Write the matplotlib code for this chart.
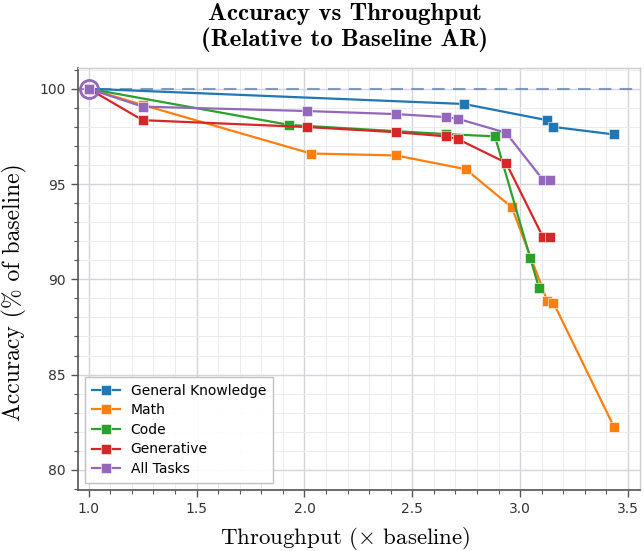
import matplotlib.pyplot as plt
from matplotlib.ticker import MultipleLocator

plt.rcParams['mathtext.fontset'] = 'cm'

# Throughput (x baseline) and accuracy (% of baseline) per task group
gk_x = [1.0, 2.74, 3.124, 3.152, 3.435]
gk_y = [100.0, 99.2, 98.35, 98.0, 97.6]

math_x = [1.0, 1.25, 2.03, 2.424, 2.747, 2.961, 3.126, 3.154, 3.435]
math_y = [100.0, 99.15, 96.6, 96.5, 95.78, 93.78, 88.85, 88.77, 82.25]

code_x = [1.0, 1.93, 2.656, 2.883, 3.047, 3.088]
code_y = [100.0, 98.1, 97.62, 97.5, 91.1, 89.52]

gen_x = [1.0, 1.25, 2.011, 2.424, 2.656, 2.712, 2.934, 3.105, 3.137]
gen_y = [100.0, 98.35, 97.99, 97.72, 97.5, 97.35, 96.12, 92.23, 92.2]

all_x = [1.0, 1.25, 2.011, 2.424, 2.656, 2.712, 2.934, 3.105, 3.137]
all_y = [100.0, 99.06, 98.83, 98.67, 98.51, 98.42, 97.69, 95.23, 95.2]

series = [
    ("General Knowledge", gk_x, gk_y, "#1f77b4"),
    ("Math", math_x, math_y, "#ff7f0e"),
    ("Code", code_x, code_y, "#2ca02c"),
    ("Generative", gen_x, gen_y, "#d62728"),
    ("All Tasks", all_x, all_y, "#9467bd"),
]

fig = plt.figure(figsize=(6.44, 5.51), dpi=100)
ax = fig.add_axes([0.121, 0.111, 0.873, 0.766])

ax.axhline(100, color="#5b7fae", alpha=0.75, lw=1.5, ls=(0, (6, 4)), zorder=1)

for name, xs, ys, c in series:
    ax.plot(xs, ys, color=c, lw=1.6, marker="s", ms=7.3,
            mec="white", mew=0.4, label=name, zorder=3)

# baseline AR point
ax.plot([1.0], [100.0], marker="o", ms=13, mfc="none", mec="#9467bd",
        mew=2, ls="none", zorder=4)

ax.set_xlim(0.95, 3.556)
ax.set_ylim(78.95, 101.1)
ax.xaxis.set_major_locator(MultipleLocator(0.5))
ax.xaxis.set_minor_locator(MultipleLocator(0.1))
ax.yaxis.set_major_locator(MultipleLocator(5))
ax.yaxis.set_minor_locator(MultipleLocator(1))

ax.grid(which="major", color="#d4d4dc", lw=1.0, zorder=0)
ax.grid(which="minor", color="#ececf0", lw=0.7, zorder=0)
ax.set_axisbelow(True)

for s in ["left", "bottom"]:
    ax.spines[s].set_color("#555555")
    ax.spines[s].set_linewidth(1.2)
for s in ["top", "right"]:
    ax.spines[s].set_color("#cccccc")
    ax.spines[s].set_linewidth(1.0)

ax.tick_params(which="both", direction="out", colors="#555555",
               labelcolor="#333333", labelsize=10)
ax.tick_params(which="major", length=5, width=1.0)
ax.tick_params(which="minor", length=3, width=0.8)

ax.set_xlabel(r"Throughput ($\times$ baseline)", family="cmr10", fontsize=16.5, labelpad=7)
ax.set_ylabel("Accuracy (% of baseline)", family="cmr10", fontsize=17, labelpad=9)
ax.xaxis.label.set_x(0.475)
ax.yaxis.label.set_y(0.468)

ax.set_title("Accuracy vs Throughput\n(Relative to Baseline AR)", family="cmb10",
             fontsize=18, pad=16, linespacing=1.1)
ax.title.set_x(0.475)

leg = ax.legend(loc="lower left", fontsize=10, fancybox=False, framealpha=0.9,
                edgecolor="#bbbbbb", borderpad=0.5, labelspacing=0.4,
                handlelength=2.0)
leg.get_frame().set_linewidth(1.0)

plt.savefig("out.png", dpi=100)
